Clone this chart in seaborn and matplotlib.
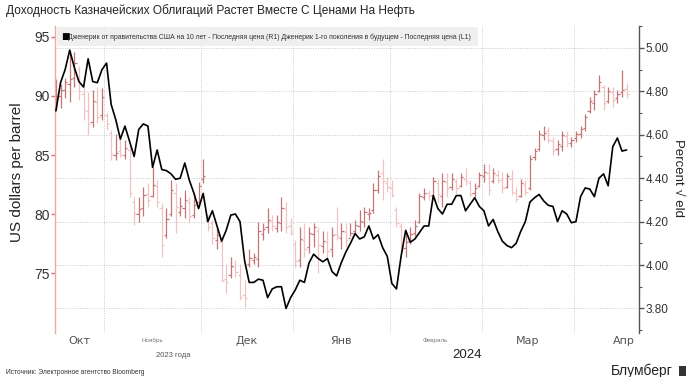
import numpy as np
import pandas as pd
import matplotlib
matplotlib.use("Agg")
import matplotlib.pyplot as plt
import seaborn as sns
from matplotlib import font_manager as fm
from matplotlib.patches import Rectangle
from matplotlib.transforms import blended_transform_factory

# ---------------- data ----------------
holidays = ["2023-11-23", "2023-12-25", "2024-01-01", "2024-01-15", "2024-02-19", "2024-03-29"]
dates = pd.bdate_range("2023-10-17", "2024-04-16").drop(pd.to_datetime(holidays))

oil_high = [91.4, 91.0, 91.5, 93.6, 93.7, 92.5, 91.4, 90.3, 90.5, 90.8,
            90.7, 88.6, 87.1, 86.8, 86.8, 86.3, 86.0, 81.4, 81.4, 82.3,
            82.6, 84.0, 82.9, 80.9, 80.5, 82.9, 82.6, 81.4, 82.0, 81.4,
            81.8, 82.7, 84.7, 79.9, 79.5, 78.8, 78.0, 75.8, 76.4, 76.1,
            75.8, 74.4, 77.0, 76.7, 79.3, 79.2, 80.5, 79.9, 79.9, 81.4,
            81.0, 79.7, 77.8, 78.9, 79.2, 78.9, 79.2, 78.9, 78.6, 78.6,
            78.9, 80.6, 79.2, 79.2, 79.2, 79.5, 80.3, 80.6, 80.5, 82.6,
            83.7, 84.7, 83.1, 82.9, 80.6, 79.2, 78.4, 78.9, 79.5, 81.8,
            82.2, 82.0, 83.1, 83.0, 83.5, 83.5, 83.5, 83.0, 83.5, 83.9,
            82.9, 82.6, 83.6, 84.2, 84.2, 83.9, 83.7, 83.6, 83.5, 83.7,
            82.3, 83.0, 82.9, 85.0, 85.6, 87.1, 87.5, 87.4, 86.5, 86.3,
            87.0, 87.0, 86.5, 87.0, 87.5, 88.5, 89.9, 90.5, 91.8, 90.9,
            90.8, 90.8, 90.5, 92.2, 91.1]
oil_low = [88.8, 89.0, 89.8, 89.5, 90.8, 89.7, 88.0, 86.7, 87.4, 87.7,
           88.0, 87.1, 84.6, 84.6, 84.8, 84.7, 81.4, 79.1, 79.3, 79.8,
           80.6, 81.4, 80.6, 76.4, 78.0, 79.8, 78.4, 79.8, 79.7, 79.2,
           79.7, 80.9, 82.6, 78.6, 77.5, 77.0, 74.2, 73.3, 74.6, 74.7,
           72.7, 72.1, 75.5, 75.8, 75.5, 77.8, 78.4, 78.6, 78.5, 78.6,
           78.4, 78.2, 75.5, 75.5, 76.4, 76.7, 77.2, 75.0, 76.7, 76.4,
           76.4, 77.8, 77.0, 77.2, 78.1, 78.4, 78.6, 78.9, 79.5, 80.1,
           81.8, 81.2, 81.9, 81.4, 78.9, 76.7, 76.4, 77.5, 78.1, 79.2,
           81.2, 81.2, 81.4, 81.0, 80.6, 81.4, 82.0, 81.8, 82.3, 82.5,
           81.4, 81.4, 82.3, 82.7, 81.6, 82.6, 82.6, 81.8, 82.2, 81.6,
           81.0, 81.4, 81.6, 82.0, 84.6, 85.3, 86.3, 86.0, 85.0, 85.0,
           85.3, 85.7, 85.7, 86.1, 86.4, 87.0, 88.6, 88.8, 90.3, 88.8,
           89.4, 89.1, 89.4, 89.9, 89.8]
oil_open = [89.2, 90.0, 90.5, 91.0, 91.5, 92.3, 90.2, 88.7, 87.8, 89.5,
            88.4, 88.4, 86.9, 85.0, 85.3, 85.0, 85.4, 81.0, 80.0, 80.5,
            81.7, 81.5, 82.4, 80.5, 78.2, 80.0, 81.8, 80.2, 80.5, 81.0,
            79.9, 81.0, 83.0, 79.5, 79.2, 77.8, 77.6, 74.5, 74.8, 75.5,
            74.8, 73.1, 75.8, 76.1, 76.2, 78.3, 78.9, 79.4, 78.8, 79.2,
            80.4, 79.0, 77.5, 76.1, 77.8, 77.2, 78.3, 78.6, 77.3, 77.6,
            77.0, 78.3, 78.0, 78.5, 78.0, 78.6, 79.0, 79.3, 80.0, 80.3,
            82.0, 83.5, 82.6, 82.2, 80.3, 79.0, 77.1, 77.7, 78.4, 79.3,
            81.4, 81.8, 81.6, 82.6, 81.5, 82.7, 82.3, 82.8, 82.4, 83.0,
            82.6, 81.8, 82.4, 83.2, 83.5, 82.8, 83.3, 82.9, 82.3, 83.0,
            81.8, 81.5, 82.5, 82.2, 84.8, 85.5, 86.7, 87.0, 86.2, 85.5,
            85.8, 86.6, 86.0, 86.4, 86.8, 87.3, 88.7, 89.4, 90.4, 90.8,
            89.6, 90.3, 89.8, 90.3, 90.6]
oil_close = [90.0, 90.5, 91.2, 91.4, 92.8, 90.4, 88.8, 87.6, 89.6, 88.2,
             89.9, 87.6, 85.1, 85.2, 85.0, 85.6, 81.8, 80.1, 80.4, 81.6,
             81.2, 82.5, 81.0, 77.4, 79.6, 82.0, 80.6, 80.7, 81.2, 79.8,
             80.8, 82.4, 83.2, 78.9, 78.0, 78.2, 74.4, 74.2, 75.6, 75.1,
             73.0, 72.9, 76.3, 76.4, 78.6, 78.7, 79.5, 79.0, 79.3, 80.5,
             78.9, 78.4, 76.0, 77.9, 77.0, 78.4, 78.9, 77.4, 77.7, 76.9,
             78.2, 78.1, 78.6, 77.8, 78.4, 79.1, 79.4, 80.2, 80.1, 82.0,
             83.2, 82.8, 82.3, 81.6, 79.2, 77.0, 77.6, 78.3, 79.0, 81.5,
             81.8, 81.5, 82.8, 81.7, 82.8, 82.2, 83.0, 82.2, 83.1, 82.8,
             81.7, 82.2, 83.3, 83.6, 82.0, 83.5, 82.9, 82.2, 83.2, 81.9,
             81.3, 82.6, 81.9, 84.7, 85.3, 86.8, 86.9, 86.3, 85.4, 85.9,
             86.7, 86.0, 86.3, 86.8, 87.2, 88.2, 89.6, 90.2, 91.2, 89.4,
             90.4, 89.7, 90.2, 90.5, 90.2]
yield_10y = [4.71, 4.84, 4.90, 4.99, 4.91, 4.845, 4.82, 4.95, 4.845, 4.84,
             4.90, 4.93, 4.74, 4.67, 4.58, 4.64, 4.57, 4.50, 4.625, 4.65,
             4.64, 4.45, 4.53, 4.44, 4.435, 4.42, 4.395, 4.40, 4.47, 4.39,
             4.33, 4.26, 4.33, 4.20, 4.25, 4.18, 4.11, 4.16, 4.23, 4.235,
             4.20, 4.02, 3.92, 3.92, 3.935, 3.93, 3.85, 3.89, 3.90, 3.90,
             3.80, 3.85, 3.885, 3.93, 3.92, 4.01, 4.05, 4.03, 4.015, 4.03,
             3.97, 3.95, 4.01, 4.06, 4.10, 4.145, 4.12, 4.13, 4.18, 4.12,
             4.14, 4.08, 4.04, 3.915, 3.89, 4.04, 4.16, 4.105, 4.12, 4.15,
             4.18, 4.18, 4.32, 4.26, 4.235, 4.28, 4.28, 4.32, 4.32, 4.25,
             4.28, 4.31, 4.27, 4.25, 4.18, 4.21, 4.155, 4.11, 4.09, 4.08,
             4.10, 4.155, 4.20, 4.29, 4.31, 4.325, 4.295, 4.275, 4.27, 4.20,
             4.25, 4.235, 4.195, 4.20, 4.315, 4.355, 4.35, 4.315, 4.40, 4.42,
             4.365, 4.545, 4.585, 4.525, 4.53]

month_names = {10: "Окт", 11: "Ноябрь", 12: "Дек", 1: "Янв", 2: "Февраль", 3: "Мар", 4: "Апр"}
small_months = {11, 2}
left_ticks = [75, 80, 85, 90, 95]
right_ticks = [3.8, 4.0, 4.2, 4.4, 4.6, 4.8, 5.0]

title = "Доходность Казначейских Облигаций Растет Вместе С Ценами На Нефть"
legend_text = ("Дженерик от правительства США на 10 лет - Последняя цена (R1) "
               "Дженерик 1-го поколения в будущем - Последняя цена (L1)")
source = "Источник: Электронное агентство Bloomberg"

# ---------------- styling ----------------
sns.set_theme(style="white")
avail = {f.name for f in fm.fontManager.ttflist}
narrow = "Liberation Sans Narrow" if "Liberation Sans Narrow" in avail else "Liberation Sans"
plt.rcParams["font.family"] = ["Liberation Sans", "DejaVu Sans"]

df = pd.DataFrame({"date": dates, "open": oil_open, "high": oil_high,
                   "low": oil_low, "close": oil_close, "yld": yield_10y})
df["i"] = np.arange(len(df))

W, H = 689, 377
fig = plt.figure(figsize=(W / 100, H / 100), dpi=100)
ax_l, ax_r, ax_t, ax_b = 55, 639, 26, 333
ax = fig.add_axes([ax_l / W, 1 - ax_b / H, (ax_r - ax_l) / W, (ax_b - ax_t) / H])
ax2 = ax.twinx()

ax.set_xlim(-0.2, 126.7)
ax.set_ylim(69.92, 95.93)
ax2.set_ylim(3.687, 5.101)

# month boundaries (gridlines) derived from dates
mstart = df.groupby([df.date.dt.year, df.date.dt.month])["i"].agg(["min", "max"]).reset_index(drop=True)
months = df.groupby([df.date.dt.year, df.date.dt.month]).size().index.tolist()
grid_col = "#c9c9c9"
for k, (mn, mx) in enumerate(zip(mstart["min"], mstart["max"])):
    if k > 0:
        ax.axvline(mn - 0.5, color=grid_col, lw=0.7, ls=(0, (1, 1.5)), zorder=0)

# horizontal gridlines at right-axis ticks, drawn on left axes
for v in right_ticks:
    disp = ax2.transData.transform((0, v))
    yv = ax.transData.inverted().transform(disp)[1]
    ax.axhline(yv, color=grid_col, lw=0.7, ls=(0, (1, 1.5)), zorder=0)

# OHLC bars
up = df.close >= df.open
cols = np.where(up, "#c47676", "#f0c2c2")
ax.vlines(df.i, df.low, df.high, colors=cols, lw=0.9, zorder=2)
ax.hlines(df.open, df.i - 0.5, df.i, colors=cols, lw=0.9, zorder=2)
ax.hlines(df.close, df.i, df.i + 0.5, colors=cols, lw=0.9, zorder=2)

# yield line
sns.lineplot(data=df, x="i", y="yld", ax=ax2, color="black", lw=1.2, zorder=3)
ax2.set_xlim(ax.get_xlim())
ax2.set_ylabel("")
ax.set_xlabel("")

# axes styling
for s in ["top", "bottom", "right"]:
    ax.spines[s].set_visible(False)
for s in ["top", "bottom", "left"]:
    ax2.spines[s].set_visible(False)
ax.spines["left"].set_color("#f0a8a8")
ax.spines["left"].set_linewidth(1.0)
ax2.spines["right"].set_color("#555555")
ax2.spines["right"].set_linewidth(1.0)

ax.set_xticks([])
ax2.set_xticks([])
ax.set_yticks(left_ticks)
ax.set_yticklabels([str(t) for t in left_ticks])
ax.tick_params(axis="y", left=True, direction="out", length=3, width=1,
               color="#e07070", labelsize=10, labelcolor="#333333", pad=1)
ax2.set_yticks(right_ticks)
ax2.set_yticklabels([f"{t:.2f}" for t in right_ticks])
ax2.set_yticks(np.arange(3.7, 5.11, 0.1), minor=True)
ax2.tick_params(axis="y", which="major", right=True, direction="out", length=3.5,
                width=1, color="#555555", labelsize=8.5, labelcolor="#333333", pad=1.5)
ax2.tick_params(axis="y", which="minor", right=True, direction="out", length=2,
                width=0.8, color="#555555")
ax.grid(False)
ax2.grid(False)

# x labels
tr = blended_transform_factory(ax.transData, ax.transAxes)
for k, ((yy, mm), mn, mx) in enumerate(zip(months, mstart["min"], mstart["max"])):
    if k == len(months) - 1:
        pos = mn + 10.5
    else:
        pos = (mn + mx) / 2
    if mm in small_months:
        ax.text(pos, -0.026, month_names[mm], transform=tr, ha="center", va="center",
                fontsize=4.5, family=narrow, color="#777777")
    else:
        ax.text(pos, -0.026, month_names[mm], transform=tr, ha="center", va="center",
                fontsize=8, family="DejaVu Sans", color="#555555")
ax.text(25.4, -0.072, "2023 года", transform=tr, ha="center", va="center",
        fontsize=5.5, family=narrow, color="#555555")
ax.text(89.4, -0.072, "2024", transform=tr, ha="center", va="center",
        fontsize=9.5, color="#222222")

# axis titles
fig.text(17 / W, 1 - 172 / H, "US dollars per barrel", rotation=90, ha="center", va="center",
         fontsize=11, color="#222222")
fig.text(678 / W, 1 - 178 / H, "Percent \u221a eld", rotation=270, ha="center", va="center",
         fontsize=9.5, color="#222222")

# title
fig.text(6 / W, 1 - 11 / H, title, ha="left", va="center", fontsize=8.6, family=narrow, color="#222222")

# legend box
fig.add_artist(Rectangle((57 / W, 1 - 46 / H), (478 - 57) / W, 19 / H, transform=fig.transFigure,
                         facecolor="#efefef", edgecolor="none", zorder=5))
fig.text(61 / W, 1 - 37 / H, "\u25a0", ha="left", va="center", fontsize=6.5,
         family="DejaVu Sans", color="black", zorder=6)
fig.text(68 / W, 1 - 37 / H, legend_text, ha="left", va="center", fontsize=4.95,
         family=narrow, color="#333333", zorder=6)

# footer
fig.text(6 / W, 1 - 372 / H, source, ha="left", va="center", fontsize=4.8, family=narrow, color="#333333")
fig.text(673 / W, 1 - 371 / H, "Блумберг", ha="right", va="center", fontsize=10, color="#222222")
fig.add_artist(Rectangle((679 / W, 1 - 376 / H), 7 / W, 10 / H, transform=fig.transFigure,
                         facecolor="#333333", edgecolor="none"))

fig.savefig("out.png", dpi=100)
